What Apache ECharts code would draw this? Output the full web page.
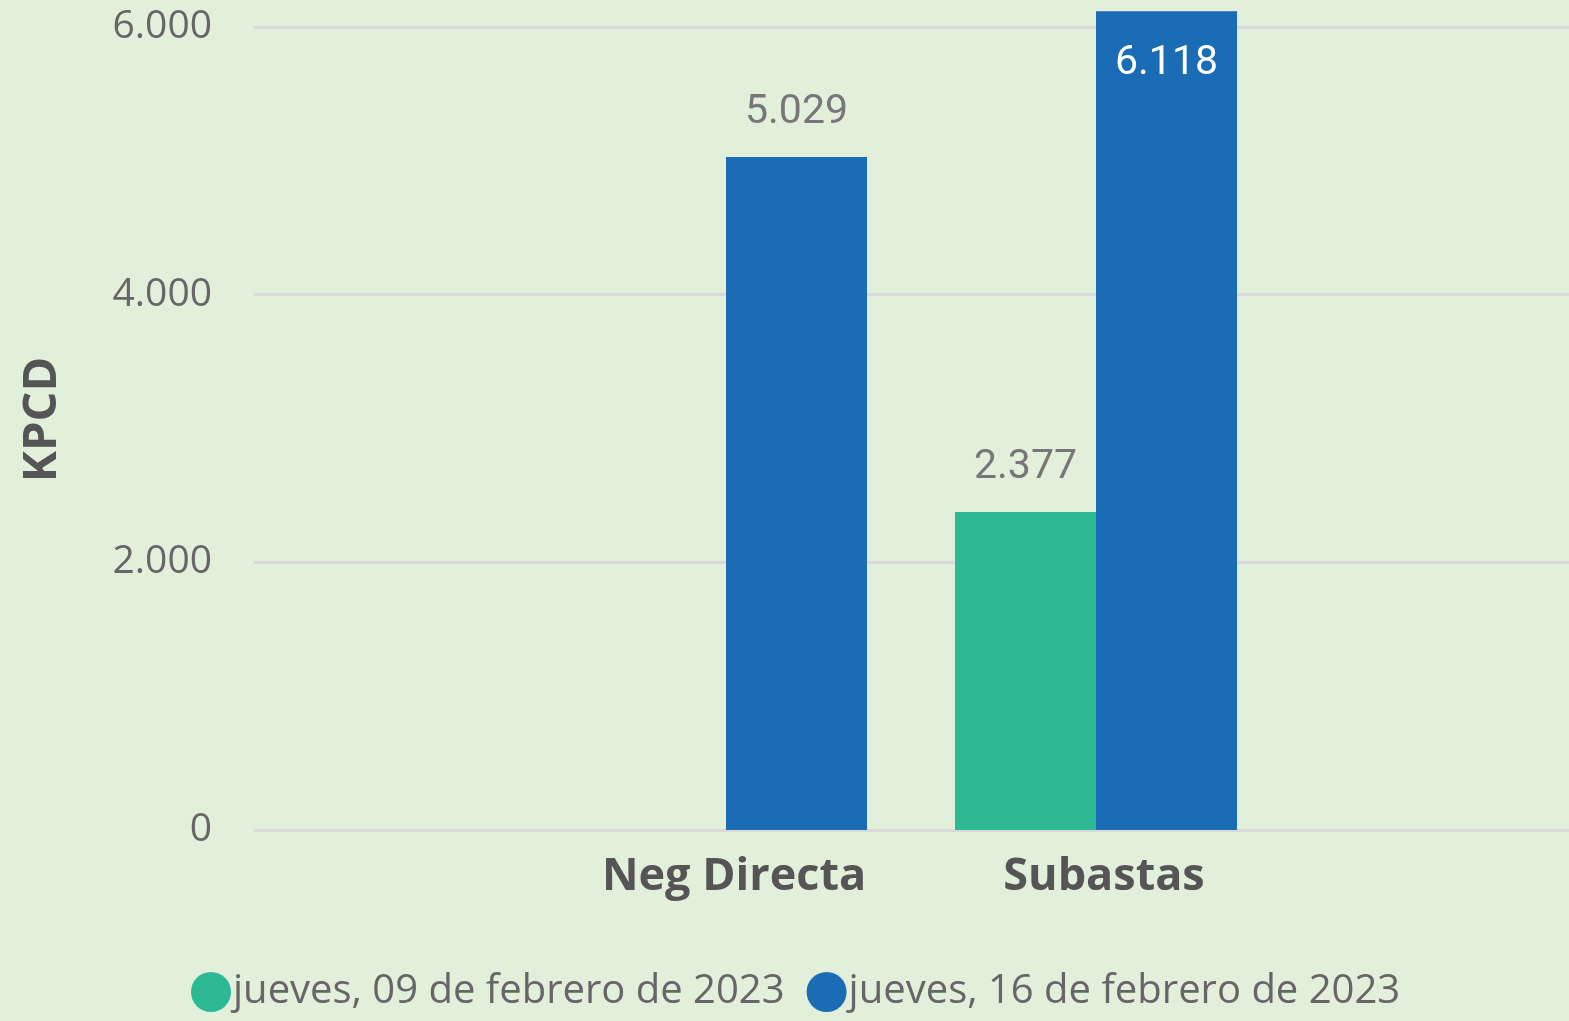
<!DOCTYPE html>
<html>
<head>
<meta charset="utf-8">
<script src="https://cdn.jsdelivr.net/npm/echarts@6/dist/echarts.min.js"></script>
<style>
  html, body { margin: 0; padding: 0; background: #e2efda; }
  #chart { width: 1569px; height: 1021px; }
</style>
</head>
<body>
<div id="chart"></div>
<script>
// categories and series
const categories = ['Neg Directa', 'Subastas']
const seriesNames = ['jueves, 09 de febrero de 2023', 'jueves, 16 de febrero de 2023']
const feb09 = [null, 2377]
const feb16 = [5029, 6118]
const yTicks = [0, 2000, 4000, 6000]

const colors = ['#2cb994', '#1a6db5']
const yMax = yTicks[yTicks.length - 1]

// 1234 -> 1.234
function fmt (v) {
  return String(Math.round(v)).replace(/\B(?=(\d{3})+(?!\d))/g, '.')
}

// values above the axis max get their label inside the bar (white)
function toData (values) {
  return values.map(v => {
    if (v === null) return null
    if (v > yMax) {
      return {
        value: v,
        label: { position: 'insideTop', distance: 32, color: '#ffffff' }
      }
    }
    return v
  })
}

const chart = echarts.init(document.getElementById('chart'))

const barLabel = {
  show: true,
  position: 'top',
  distance: 24,
  fontFamily: 'Roboto',
  fontSize: 41,
  color: '#777777',
  formatter: p => fmt(p.value)
}

const option = {
  backgroundColor: '#e2efda',
  color: colors,
  legend: {
    bottom: 4,
    left: 186,
    icon: 'circle',
    itemWidth: 40,
    itemHeight: 40,
    itemGap: 22,
    textStyle: {
      fontFamily: 'Open Sans',
      fontSize: 40,
      color: '#666666',
      padding: [0, 0, 0, -3]
    },
    data: seriesNames
  },
  grid: [
    // full width grid: gridlines, ticks, axis name
    { left: 254, right: 0, top: 27, bottom: 191 },
    // narrow grid holding the bars
    { left: 541, right: 288, top: 27, bottom: 191 }
  ],
  xAxis: [
    { gridIndex: 0, type: 'category', data: categories, show: false },
    {
      gridIndex: 1,
      type: 'category',
      data: categories,
      axisLine: { show: false },
      axisTick: { show: false },
      axisLabel: {
        margin: 25,
        padding: [0, 0, 0, 16],
        fontFamily: 'Open Sans',
        fontWeight: 'bold',
        fontSize: 45,
        color: '#555555'
      }
    }
  ],
  yAxis: [
    {
      gridIndex: 0,
      type: 'value',
      min: 0,
      max: yMax,
      interval: 2000,
      name: 'KPCD',
      nameLocation: 'middle',
      nameGap: 188,
      nameTextStyle: {
        fontFamily: 'Open Sans',
        fontWeight: 'bold',
        fontSize: 47,
        color: '#555555',
        padding: [0, 0, 0, 18]
      },
      axisLine: { show: false },
      axisTick: { show: false },
      axisLabel: {
        margin: 42,
        fontFamily: 'Open Sans',
        fontSize: 39,
        color: '#666666',
        formatter: v => fmt(v)
      },
      splitLine: { lineStyle: { color: '#d9d9d9', width: 3 } }
    },
    { gridIndex: 1, type: 'value', min: 0, max: yMax, show: false }
  ],
  series: [
    {
      name: seriesNames[0],
      type: 'bar',
      xAxisIndex: 1,
      yAxisIndex: 1,
      barWidth: 141,
      barGap: 0,
      clip: false,
      label: barLabel,
      data: toData(feb09)
    },
    {
      name: seriesNames[1],
      type: 'bar',
      xAxisIndex: 1,
      yAxisIndex: 1,
      barWidth: 141,
      barGap: 0,
      clip: false,
      label: barLabel,
      data: toData(feb16)
    }
  ]
}

chart.setOption(option)
</script>
</body>
</html>
